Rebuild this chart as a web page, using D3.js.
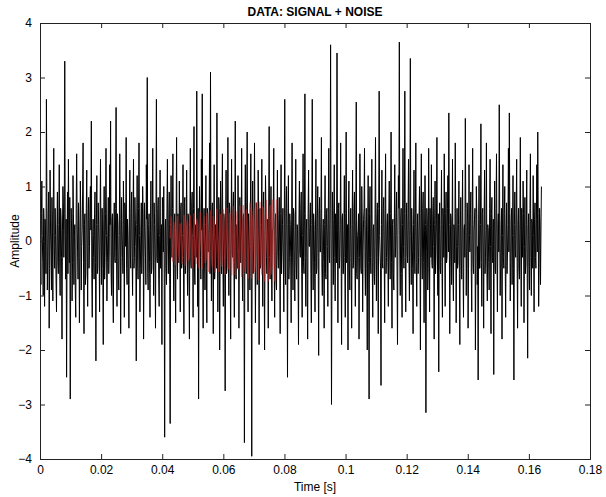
<!DOCTYPE html>
<html>
<head>
<meta charset="utf-8">
<script src="https://cdn.jsdelivr.net/npm/d3@7"></script>
<style>
  html, body { margin: 0; padding: 0; background: #fff; }
  svg { display: block; }
  text { font-family: Arial, "Liberation Sans", Helvetica, sans-serif; }
</style>
</head>
<body>
<svg id="chart" width="606" height="497"></svg>
<script>
// Sampled noisy record (amplitude), uniform sampling step in seconds
const sampleStep = 0.00015;
const noisyValues = [
  0.3, -0.2, -0.8, 0.5, 1.1, 0.1, -0.4, -1.0, 0.6, 0.3, -1.2, 0.4, 0.2, -0.6, 2.6, 0.8, -0.9, -0.3, 0.5, 0.9, -1.6, -0.5, 1.3, 0.2, -0.2, -0.9, 0.8, 0.4, -1.1, 0.7, 1.7, -0.1, -0.5, 0.6, 0.1, -0.7, -1.3, 0.2, 0.9, -0.4,
  -0.6, 0.3, 1.4, -0.5, -1.0, 0.6, 0.4, -0.3, -1.8, 0.2, 1.0, 0.7, -0.3, 0.5, 3.3, 0.1, -0.7, 0.4, -2.5, -0.2, 0.9, -0.6, 1.5, 0.3, -0.4, 0.8, -2.9, -0.5, 0.6, 0.2, -1.1, -0.4, 1.2, 0.5, -0.8, 0.1, 0.3, -0.9, -1.4, 0.6,
  1.6, 0.4, -0.2, -0.7, 0.7, 0.2, -1.5, -0.3, 1.1, 0.5, -0.9, -0.1, 0.2, 0.9, 1.8, -0.4, -1.7, 0.3, 0.5, -0.8, -0.6, 0.6, 1.3, -0.2, -1.2, 0.4, 0.8, -0.5, -0.1, 0.7, 1.0, 0.2, 2.2, -0.6, -1.4, 0.1, 0.4, -0.3, -0.7, 0.5,
  0.9, -0.4, -2.2, 0.3, 1.2, -0.6, -0.5, 0.7, 0.3, -0.2, -1.3, 0.4, 1.5, -0.1, -0.8, 0.6, 0.6, -0.5, -1.9, 0.2, 1.0, -0.7, -0.3, 0.5, 1.7, 0.1, -1.1, -0.4, 0.2, 0.8, -0.6, -0.2, 1.4, 0.3, 2.2, -0.5, -1.0, 0.4, 0.5, -0.9,
  -1.5, 0.2, 0.7, -0.3, -0.4, 0.6, 2.45, -0.2, -1.2, 0.5, 0.3, -0.7, -0.9, 0.1, 1.6, 0.4, -1.7, -0.3, 0.8, 0.2, -0.2, -0.6, 1.1, 0.3, -1.4, 0.7, 0.6, -0.1, 1.9, -0.5, -0.8, 0.4, 0.1, -0.8, -1.6, 0.5, 1.3, -0.2, -0.5, 0.6,
  0.9, -0.3, -1.0, 0.4, 1.5, -0.5, -0.3, 0.8, 0.4, -0.1, -2.2, 0.3, 1.2, -0.4, -0.7, 0.6, 1.8, 0.1, -1.3, -0.5, 0.2, 0.7, -0.6, -0.2, 1.0, 0.5, -1.8, -0.3, 0.7, 0.2, -0.2, -0.8, 1.4, 0.4, 3.0, -0.6, -0.9, 0.3, 0.5, -0.4,
  -1.4, 0.2, 1.1, -0.6, -0.5, 0.4, 1.7, -0.2, -1.0, 0.7, 0.3, -0.4, -1.6, 0.5, 2.6, -0.3, -0.4, 0.6, 0.8, -0.7, -1.2, 0.1, 1.3, -0.5, -0.1, 0.3, -1.9, 0.8, 0.6, -0.2, 1.0, -0.6, -3.6, 0.2, 0.4, -0.5, -0.8, 0.6, 1.5, -0.1,
  -0.6, 0.4, 0.9, -0.8, -3.35, 0.3, 1.2, -0.2, -0.3, 0.6, 1.6, -0.5, -1.1, 0.2, 0.5, -0.7, -1.5, 0.4, 1.9, -0.1, -0.7, 0.5, 0.2, -0.4, 1.1, 0.3, -1.3, 0.6, 0.7, -0.5, -0.4, 0.1, 1.4, -0.3, -1.7, 0.7, 0.8, -0.6, -0.2, 0.4,
  1.3, -0.2, -1.0, 0.5, 0.4, -0.6, -1.8, 0.3, 1.7, -0.4, -0.5, 0.7, 0.9, 0.1, -1.4, 0.6, 2.1, -0.5, -0.8, 0.2, 0.3, -0.3, 2.75, 0.4, -1.2, 0.6, -2.9, -0.2, 1.0, 0.5, -0.3, -0.7, 1.5, 0.2, 2.7, -0.5, -1.6, 0.3, 0.6, -0.4,
  -0.9, 0.3, 1.2, -0.5, -1.5, 0.6, 0.5, -0.2, -0.2, 0.4, 1.8, -0.6, 3.1, 0.2, -1.1, 0.5, 0.7, -0.3, -1.7, 0.1, 1.4, -0.7, -0.4, 0.3, 0.2, -0.5, 2.35, 0.4, -1.3, -0.2, 0.8, 0.6, -2.0, -0.4, 1.1, 0.2, -0.6, 0.7, 1.6, -0.3,
  -1.2, 0.5, 0.4, -0.3, -2.75, 0.2, 1.3, -0.6, -0.5, 0.4, 1.9, -0.1, -1.0, 0.7, 0.6, -0.5, -1.8, 0.3, 1.5, -0.2, -0.3, 0.6, 0.9, -0.4, -1.4, 0.1, 2.2, -0.6, -0.7, 0.3, 0.1, -0.5, 1.2, 0.4, -1.6, -0.2, 0.8, 0.5, -0.4, 0.2,
  1.7, -0.3, -1.1, 0.4, 0.5, -0.6, -3.7, 0.2, 1.4, -0.4, -0.6, 0.7, 2.0, -0.2, -1.3, 0.5, 0.3, -0.1, -0.9, 0.6, 1.6, -0.5, -3.95, 0.3, 1.1, -0.6, -0.2, 0.4, 1.8, 0.1, -1.5, -0.3, 0.7, 0.5, -0.8, -0.2, 1.3, 0.6, -1.9, 0.2,
  0.6, -0.5, -0.4, 0.3, 1.5, -0.2, -1.2, 0.6, 0.9, -0.4, -2.0, 0.1, 1.2, 0.5, -0.3, -0.6, 0.4, 0.2, -1.6, 0.7, 2.1, -0.3, -0.7, 0.4, 1.0, -0.5, -1.1, 0.2, 0.2, 0.6, 1.7, -0.4, -1.4, 0.3, 0.5, -0.7, -0.9, 0.1, 1.3, -0.2,
  -0.5, 0.4, 0.8, -0.2, -1.7, 0.5, 1.4, -0.6, -0.2, 0.3, 0.6, -0.4, -1.3, 0.2, 2.6, -0.5, -0.8, 0.6, 1.0, -0.1, -2.5, 0.3, 1.2, -0.7, -0.4, 0.5, 0.3, -0.3, -1.5, 0.4, 1.8, -0.2, -0.9, 0.6, 0.5, -0.5, -1.1, 0.2, 1.5, -0.4,
  -0.7, 0.3, 0.2, -0.5, -1.9, 0.4, 1.1, -0.2, -0.3, 0.6, 0.9, -0.6, -1.4, 0.1, 1.6, -0.4, -0.6, 0.5, 2.7, -0.3, -1.2, 0.2, 0.4, -0.7, -1.8, 0.5, 1.3, -0.1, -0.1, 0.4, 0.7, -0.6, -1.5, 0.3, 2.6, -0.2, -0.9, 0.5, 0.3, -0.4,
  -1.3, 0.2, 1.5, -0.6, -0.5, 0.4, 1.0, -0.3, -2.1, 0.5, 0.8, -0.2, -0.2, 0.6, 1.9, -0.5, -1.0, 0.1, 0.4, -0.4, -1.6, 0.3, 1.2, -0.6, -0.7, 0.5, 0.6, -0.1, -1.2, 0.4, 1.7, -0.3, -0.4, 0.6, 3.6, 0.2, -3.0, -0.5, 0.9, 0.3,
  -0.8, 0.4, 1.4, -0.3, -1.1, 0.5, 0.3, -0.4, 3.45, 0.2, -1.5, 0.6, 0.7, -0.5, -0.3, 0.3, 1.8, -0.2, -1.9, 0.4, 0.5, -0.6, -0.6, 0.2, 1.2, -0.3, -1.4, 0.5, 2.0, -0.4, -0.2, 0.3, -2.0, 0.6, 1.1, -0.5, -0.9, 0.2, 0.6, -0.3,
  -1.6, 0.3, 1.3, -0.5, -0.4, 0.6, 0.9, -0.2, -1.2, 0.4, 2.55, -0.6, -0.7, 0.1, 0.2, 0.5, -1.8, -0.3, 1.6, 0.2, -0.5, -0.6, 1.0, 0.4, -1.3, -0.2, 0.4, 0.6, 1.7, -0.4, -1.0, 0.3, 0.6, -0.5, -2.0, 0.2, 1.2, -0.4, -2.9, 0.5,
  1.0, -0.3, -0.6, 0.4, 1.5, -0.5, -1.4, 0.2, 0.3, -0.6, -0.8, 0.5, 1.9, -0.1, -1.1, 0.4, 0.7, -0.3, -1.7, 0.6, 2.75, 0.1, -0.2, -0.5, -2.65, 0.3, 1.3, -0.4, -0.5, 0.6, 0.8, -0.2, -1.5, 0.5, 1.6, -0.6, -0.3, 0.3, 0.5, -0.4,
  -1.2, 0.4, 1.1, -0.2, -0.7, 0.5, 2.0, -0.4, -1.6, 0.3, 0.4, -0.6, -0.9, 0.2, 1.4, -0.3, -0.1, 0.5, 0.9, -0.5, -1.9, 0.1, 1.2, 0.6, 3.65, -0.2, -1.0, 0.4, 0.6, -0.6, -1.4, 0.3, 1.7, -0.1, -0.5, 0.5, 2.75, -0.3, -1.3, 0.2,
  0.7, -0.2, -0.4, 0.5, 1.5, -0.3, -1.1, 0.4, 3.35, 0.1, -0.8, 0.6, 0.2, -0.5, -1.7, 0.3, 1.3, -0.2, -0.6, 0.5, 1.8, -0.4, -1.2, 0.2, 0.5, -0.6, -0.3, 0.4, 1.0, -0.1, -2.0, 0.5, 1.6, -0.3, -0.7, 0.6, 0.9, -0.4, -1.5, 0.2,
  1.2, 0.3, -3.15, -0.2, 0.6, 0.4, -0.9, -0.5, 1.7, 0.2, -1.3, 0.6, 0.3, -0.3, 1.4, -0.4, -0.5, 0.5, 0.8, -0.1, -1.8, 0.3, 1.1, -0.6, -0.2, 0.4, 1.9, -0.2, -1.0, 0.5, -2.4, 0.1, 0.7, -0.5, -0.6, 0.3, 1.3, -0.4, -1.4, 0.6,
  0.4, -0.3, 1.6, 0.2, -1.2, 0.5, 0.9, -0.4, -0.3, 0.6, 1.2, -0.2, 2.35, 0.3, -1.7, -0.5, 0.5, 0.4, -0.8, 0.1, 1.5, -0.6, -1.1, 0.3, 0.2, -0.4, 1.8, 0.5, -1.5, -0.1, 0.6, -0.5, -0.4, 0.3, 1.1, -0.6, -1.9, 0.2, 0.8, -0.3,
  -0.7, 0.4, 1.3, -0.5, -1.4, 0.2, 0.3, -0.3, 2.25, 0.6, -1.0, -0.2, 0.7, 0.4, -1.6, -0.5, 1.4, 0.1, -0.2, 0.5, 0.9, -0.6, -1.3, 0.3, 1.7, -0.4, -0.6, 0.2, 0.4, 0.6, -2.0, -0.3, 1.0, 0.5, -0.8, -0.1, -2.55, 0.4, 1.2, -0.5,
  -0.5, 0.3, 2.15, -0.4, -1.2, 0.5, 0.6, -0.2, -1.6, 0.4, 1.3, -0.6, -0.3, 0.2, 1.8, -0.5, -1.1, 0.3, 0.2, -0.4, -0.9, 0.6, 1.5, -0.1, -1.7, 0.5, 0.8, -0.3, -0.4, 0.4, -2.45, 0.2, 1.1, -0.5, -0.6, 0.6, 1.6, -0.2, -1.3, 0.3,
  0.5, -0.2, 2.5, 0.4, -1.0, -0.5, 0.3, 0.6, -1.8, 0.1, 1.4, -0.3, -0.5, 0.5, 1.0, -0.4, -1.4, 0.2, 0.7, -0.6, -0.2, 0.3, 1.7, -0.2, 2.35, 0.5, -1.1, -0.4, 0.4, 0.6, -0.8, 0.1, 1.2, -0.5, -2.55, 0.3, 0.9, -0.2, -0.3, 0.5,
  1.5, -0.4, -1.6, 0.3, 0.6, -0.5, -0.7, 0.4, 1.9, -0.2, -1.2, 0.6, 0.2, -0.3, 1.1, 0.5, -1.5, -0.1, 0.8, -0.6, -0.4, 0.3, 1.3, -0.5, -2.15, 0.2, 0.5, -0.4, -0.9, 0.6, 1.6, -0.3, -1.0, 0.4, 0.3, -0.5, 1.2, 0.1, -1.3, 0.4,
  0.7, -0.3, -0.5, 0.4, 1.4, -0.2, 2.0, 0.5, -1.2, -0.4, 0.6, 0.3, -0.8, 0.2, 1.0
];

// Embedded signal burst (highlighted)
const signalStart = 0.0426;
const signalStep = 0.0003;
const signalValues = [
  0.05, 0.45, -0.30, -0.38, 0.35, 0.20, -0.44, -0.05, 0.46, -0.15, -0.40, 0.30, 0.32, -0.42, -0.10, 0.48, 0.02, -0.46, 0.25, 0.38,
  -0.36, -0.28, 0.47, 0.12, -0.50, 0.08, 0.51, -0.25, -0.42, 0.40, 0.30, -0.50, -0.12, 0.53, -0.05, -0.51, 0.22, 0.45, -0.40, -0.33,
  0.52, 0.15, -0.57, 0.05, 0.56, -0.28, -0.48, 0.46, 0.33, -0.58, -0.14, 0.59, -0.08, -0.57, 0.30, 0.50, -0.47, -0.35, 0.58, 0.10,
  -0.62, 0.10, 0.61, -0.34, -0.52, 0.52, 0.36, -0.63, -0.15, 0.64, -0.06, -0.63, 0.33, 0.55, -0.52, -0.38, 0.65, 0.12, -0.66, 0.08,
  0.66, -0.38, -0.57, 0.58, 0.40, -0.69, -0.18, 0.70, -0.04, -0.69, 0.36, 0.60, -0.57, -0.42, 0.71, 0.14, -0.72, 0.06, 0.72, -0.40,
  -0.62, 0.63, 0.44, -0.74, -0.20, 0.75, -0.03, -0.74, 0.40, 0.66, -0.62, -0.47, 0.76, 0.16, -0.74, 0.05, 0.76
];

const xTicks = [0, 0.02, 0.04, 0.06, 0.08, 0.1, 0.12, 0.14, 0.16, 0.18];
const yTicks = [-4, -3, -2, -1, 0, 1, 2, 3, 4];
const xDomain = [0, 0.18];
const yDomain = [-4, 4];

const titleText = "DATA: SIGNAL + NOISE";
const xLabelText = "Time [s]";
const yLabelText = "Amplitude";

// Layout
const svg = d3.select("#chart");
const W = 606, H = 497;
const plot = { left: 40, right: 590, top: 23, bottom: 459 };

svg.append("rect").attr("width", W).attr("height", H).attr("fill", "#fff");

const x = d3.scaleLinear().domain(xDomain).range([plot.left, plot.right]);
const y = d3.scaleLinear().domain(yDomain).range([plot.bottom, plot.top]);

const noisy = noisyValues.map((v, i) => ({ t: i * sampleStep, v }));
const signal = signalValues.map((v, i) => ({ t: signalStart + i * signalStep, v }));

const line = d3.line().x(d => x(d.t)).y(d => y(d.v));

svg.append("defs").append("clipPath").attr("id", "plotClip")
  .append("rect")
  .attr("x", plot.left).attr("y", plot.top)
  .attr("width", plot.right - plot.left).attr("height", plot.bottom - plot.top);

const plotG = svg.append("g").attr("clip-path", "url(#plotClip)");

plotG.append("path")
  .datum(noisy)
  .attr("d", line)
  .attr("fill", "none")
  .attr("stroke", "#000")
  .attr("stroke-width", 1);

plotG.append("path")
  .datum(signal)
  .attr("d", line)
  .attr("fill", "none")
  .attr("stroke", "#e02828")
  .attr("stroke-opacity", 0.55)
  .attr("stroke-width", 1.4);

// Axes: inward ticks on all four sides, boxed
const axisColor = "#222";
const tickLen = 5;
const fmtX = d => (d === 0 ? "0" : String(+d.toFixed(2)));

const axBottom = svg.append("g").attr("transform", `translate(0,${plot.bottom})`)
  .call(d3.axisBottom(x).tickValues(xTicks).tickSize(-tickLen).tickPadding(6).tickFormat(fmtX));
const axTop = svg.append("g").attr("transform", `translate(0,${plot.top})`)
  .call(d3.axisTop(x).tickValues(xTicks).tickSize(-tickLen).tickFormat(""));
const axLeft = svg.append("g").attr("transform", `translate(${plot.left},0)`)
  .call(d3.axisLeft(y).tickValues(yTicks).tickSize(-tickLen).tickPadding(8).tickFormat(d3.format("d")));
const axRight = svg.append("g").attr("transform", `translate(${plot.right},0)`)
  .call(d3.axisRight(y).tickValues(yTicks).tickSize(-tickLen).tickFormat(""));

[axBottom, axTop, axLeft, axRight].forEach(g => {
  g.select(".domain").attr("stroke", axisColor).attr("stroke-width", 1);
  g.selectAll(".tick line").attr("stroke", axisColor);
  g.selectAll(".tick text")
    .attr("fill", "#000")
    .style("font-size", "12px")
    .style("font-family", "Arial, 'Liberation Sans', sans-serif");
});

// Titles
svg.append("text")
  .attr("x", (plot.left + plot.right) / 2)
  .attr("y", 16)
  .attr("text-anchor", "middle")
  .style("font-size", "12px")
  .style("font-weight", "bold")
  .text(titleText);

svg.append("text")
  .attr("x", (plot.left + plot.right) / 2)
  .attr("y", 491)
  .attr("text-anchor", "middle")
  .style("font-size", "12px")
  .text(xLabelText);

svg.append("text")
  .attr("transform", `translate(19,${(plot.top + plot.bottom) / 2}) rotate(-90)`)
  .attr("text-anchor", "middle")
  .style("font-size", "12px")
  .text(yLabelText);
</script>
</body>
</html>
